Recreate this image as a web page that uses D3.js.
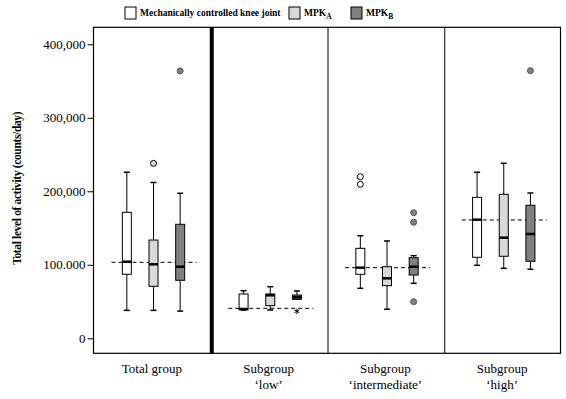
<!DOCTYPE html>
<html><head><meta charset="utf-8">
<script src="https://cdn.jsdelivr.net/npm/d3@7"></script>
<style>
body{margin:0;background:#fff;}
text{font-family:"Liberation Serif","Times New Roman",serif;fill:#000;}
</style></head>
<body><svg id="c" width="566" height="399"></svg>
<script>
const groups = ["Total group", "Subgroup|‘low’", "Subgroup|‘intermediate’", "Subgroup|‘high’"];
const series = ["Mechanically controlled knee joint", "MPK|A", "MPK|B"];
const seriesColors = ["#ffffff", "#d9d9d9", "#808080"];
// per group, per series (3 each)
const whiskerLow  = [[38000, 38000, 37000], [38500, 38500, 53100], [68000, 39500, 74800], [99300, 95200, 93900]];
const q1          = [[87100, 70700, 78900], [38900, 44400, 53100], [87100, 71600, 86100], [110200, 111600, 104800]];
const median      = [[104200, 100700, 97400], [39900, 58500, 55800], [96100, 81600, 97400], [161400, 136900, 141900]];
const q3          = [[171400, 133700, 155100], [60300, 60300, 58900], [122400, 97400, 109700], [191800, 195900, 181000]];
const whiskerHigh = [[225900, 212000, 197300], [64800, 70200, 64400], [139600, 132400, 112400], [225900, 238100, 197700]];
const outliers    = [[[], [238000], [363700]], [[], [], []], [[219900, 209500], [], [170900, 157800, 49800]], [[], [], [364100]]];
const extremes    = [[[], [], []], [[], [], [36700]], [[], [], []], [[], [], []]];
const groupMeans  = [103400, 40800, 96100, 161000];
const yTicks = [0, 100000, 200000, 300000, 400000];
const yTickLabels = ["0", "100.000", "200,000", "300,000", "400,000"];
const yTitle = "Total level of activity (counts/day)";

const svg = d3.select("#c");
const L = 93.5, R = 560.5, T = 27.3, B = 353.3;
const y = d3.scaleLinear().domain([-20400, 423100]).range([B, T]);
const x = d3.scaleBand().domain(groups).range([L, R]);
const xs = d3.scaleBand().domain(series).range([20, 100]);
const bw = 9, cap = 5;

// y axis
const yAxis = d3.axisLeft(y).tickValues(yTicks).tickSize(6).tickPadding(2)
  .tickFormat((d, i) => yTickLabels[i]);
const ga = svg.append("g").attr("transform", `translate(${L},0)`).call(yAxis);
ga.select(".domain").remove();
ga.selectAll("line").attr("stroke", "#000");
ga.selectAll("text").attr("font-size", 13).attr("font-family", "Liberation Serif").attr("fill", "#000");

svg.append("text").attr("transform", `translate(21,${(T + B) / 2 - 2}) rotate(-90)`)
  .attr("text-anchor", "middle").attr("font-size", 11.5).attr("font-weight", "bold")
  .attr("letter-spacing", -0.35).text(yTitle);

// panels
groups.forEach((g, gi) => {
  const gx = x(g);
  const pg = svg.append("g").attr("transform", `translate(${gx},0)`);
  pg.append("line").attr("x1", 18).attr("x2", 103).attr("y1", y(groupMeans[gi])).attr("y2", y(groupMeans[gi]))
    .attr("stroke", "#000").attr("stroke-width", 1).attr("stroke-dasharray", "4,3");
  series.forEach((s, si) => {
    const cx = xs(s) + xs.bandwidth() / 2;
    const b = pg.append("g");
    b.append("line").attr("x1", cx).attr("x2", cx).attr("y1", y(whiskerHigh[gi][si])).attr("y2", y(q3[gi][si])).attr("stroke", "#000");
    b.append("line").attr("x1", cx).attr("x2", cx).attr("y1", y(q1[gi][si])).attr("y2", y(whiskerLow[gi][si])).attr("stroke", "#000");
    b.append("line").attr("x1", cx - cap / 2 - 0.5).attr("x2", cx + cap / 2 + 0.5).attr("y1", y(whiskerHigh[gi][si])).attr("y2", y(whiskerHigh[gi][si])).attr("stroke", "#000").attr("stroke-width", 1.5);
    b.append("line").attr("x1", cx - cap / 2 - 0.5).attr("x2", cx + cap / 2 + 0.5).attr("y1", y(whiskerLow[gi][si])).attr("y2", y(whiskerLow[gi][si])).attr("stroke", "#000").attr("stroke-width", 1.5);
    b.append("rect").attr("x", cx - bw / 2).attr("width", bw)
      .attr("y", y(q3[gi][si])).attr("height", Math.max(1, y(q1[gi][si]) - y(q3[gi][si])))
      .attr("fill", seriesColors[si]).attr("stroke", "#000").attr("stroke-width", 1);
    b.append("line").attr("x1", cx - bw / 2).attr("x2", cx + bw / 2).attr("y1", y(median[gi][si])).attr("y2", y(median[gi][si]))
      .attr("stroke", "#000").attr("stroke-width", 2.5);
    b.selectAll("circle.o").data(outliers[gi][si]).enter().append("circle").attr("class", "o")
      .attr("cx", cx).attr("cy", d => y(d)).attr("r", 3)
      .attr("fill", seriesColors[si]).attr("stroke", si === 2 ? "#555" : "#000").attr("stroke-width", 1);
    b.selectAll("path.e").data(extremes[gi][si]).enter().append("path").attr("class", "e")
      .attr("transform", d => `translate(${cx},${y(d)})`)
      .attr("d", d3.symbol(d3.symbolAsterisk, 22)).attr("stroke", "#000").attr("stroke-width", 1).attr("fill", "none");
  });
  const lines = g.split("|");
  const tl = svg.append("text").attr("x", gx + x.bandwidth() / 2).attr("y", 373).attr("text-anchor", "middle").attr("font-size", 13);
  lines.forEach((t, i) => tl.append("tspan").attr("x", gx + x.bandwidth() / 2).attr("dy", i === 0 ? 0 : 16).text(t));
});

// separators
groups.slice(1).forEach((g, i) => {
  svg.append("line").attr("x1", x(g) + (i === 0 ? 1.5 : 1)).attr("x2", x(g) + (i === 0 ? 1.5 : 1)).attr("y1", T).attr("y2", B)
    .attr("stroke", "#000").attr("stroke-width", i === 0 ? 4 : 1);
});
svg.append("rect").attr("x", L).attr("y", T).attr("width", R - L).attr("height", B - T)
  .attr("fill", "none").attr("stroke", "#000").attr("stroke-width", 1.2);

// legend
const legX = [125, 289, 351];
series.forEach((s, si) => {
  svg.append("rect").attr("x", legX[si]).attr("y", 7).attr("width", 11).attr("height", 12)
    .attr("fill", seriesColors[si]).attr("stroke", "#000").attr("stroke-width", 1);
  const t = svg.append("text").attr("x", legX[si] + 15).attr("y", 16).attr("font-size", 9.5).attr("font-weight", "bold");
  const parts = s.split("|");
  t.append("tspan").text(parts[0]);
  if (parts[1]) t.append("tspan").attr("dy", 3).attr("font-size", 7.5).text(parts[1]);
});
</script></body></html>
